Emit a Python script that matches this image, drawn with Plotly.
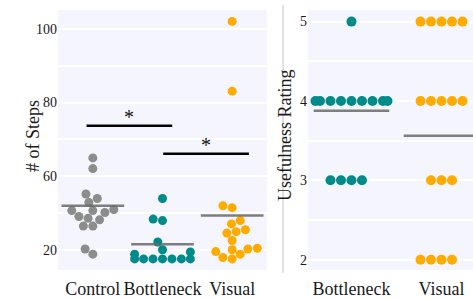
import numpy as np
import plotly.graph_objects as go

# ---------------- data ----------------
steps_categories = ["Control", "Bottleneck", "Visual"]
steps_control = [65.0, 62.1, 55.2, 54.0, 52.9, 50.2, 50.7, 51.0, 50.7, 49.1,
                 48.2, 48.6, 46.5, 46.5, 40.3, 38.9]
steps_bottleneck = [54.0, 48.4, 48.0, 42.2, 40.1, 38.9, 39.5, 37.6, 37.6, 37.6,
                    37.6, 37.6, 37.6, 37.6]
steps_visual = [102.0, 83.1, 52.0, 51.5, 48.0, 47.1, 44.6, 45.0, 45.5, 42.6,
                40.5, 39.6, 40.3, 38.0, 37.6, 38.9, 40.1]
steps_means = [52.0, 41.6, 49.4]
steps_tick_vals = [40, 50, 60, 70, 80, 90, 100]
steps_tick_text = ["20", "", "60", "", "80", "", "100"]

sig_x0 = [-0.09, 1.01]
sig_x1 = [1.14, 2.24]
sig_y = [73.7, 66.1]
sig_text = ["*", "*"]

rating_categories = ["Bottleneck", "Visual"]
rating_bottleneck = [5, 4, 4, 4, 4, 4, 4, 4, 4, 4, 3, 3, 3, 3]
rating_visual = [5, 5, 5, 5, 5, 4, 4, 4, 4, 4, 3, 3, 3, 2, 2, 2, 2]
rating_means = [3.875, 3.5625]
rating_tick_vals = [2, 2.5, 3, 3.5, 4, 4.5, 5]
rating_tick_text = ["2", "", "3", "", "4", "", "5"]

colors_steps = ["#8C8C8C", "#008B8B", "#FFAB00"]
colors_rating = ["#008B8B", "#FFAB00"]

FONT = "Liberation Serif, DejaVu Serif, serif"
TXT = "#1a1a1a"

# ---------------- geometry ----------------
W, H = 473, 299
ML, MR, MT, MB = 58, 0, 10, 27
plot_w = W - ML - MR
plot_h = H - MT - MB
left_dom = [0.0, 209 / plot_w]
right_dom = [250 / plot_w, 1.0]
left_xr = [-0.5, 2.5]
left_yr = [34.6, 105.1]
right_xr = [-0.483, 1.35]
right_yr = [1.87, 5.146]

lx_ppu = (left_dom[1] - left_dom[0]) * plot_w / (left_xr[1] - left_xr[0])
ly_ppu = plot_h / (left_yr[1] - left_yr[0])
rx_ppu = (right_dom[1] - right_dom[0]) * plot_w / (right_xr[1] - right_xr[0])
ry_ppu = plot_h / (right_yr[1] - right_yr[0])


def swarm(values, y_ppu, r, half_w):
    """seaborn-like beeswarm, returns x offsets in px"""
    v = np.asarray(values, float)
    order = np.argsort(v, kind="stable")
    ys = v[order] * y_ppu
    placed = []
    for y in ys:
        nb = [(xj, yj) for (xj, yj) in placed if abs(y - yj) < 2 * r]
        cands = [0.0]
        left = True
        for xj, yj in nb:
            dx = np.sqrt(max((2 * r) ** 2 - (y - yj) ** 2, 0)) * 1.05
            cands.extend([xj - dx, xj + dx] if left else [xj + dx, xj - dx])
            left = not left
        cands = sorted(cands, key=abs)
        chosen = cands[-1]
        for c in cands:
            if all((c - xj) ** 2 + (y - yj) ** 2 >= (2 * r) ** 2 - 1e-6 for xj, yj in nb):
                chosen = c
                break
        placed.append((chosen, y))
    offs = np.clip(np.array([p[0] for p in placed]), -half_w, half_w)
    res = np.empty_like(offs)
    res[order] = offs
    return res


fig = go.Figure()

# left panel swarms
for i, vals in enumerate([steps_control, steps_bottleneck, steps_visual]):
    off = swarm(vals, ly_ppu, 4.5, 0.4 * lx_ppu) / lx_ppu
    fig.add_trace(go.Scatter(x=i + off, y=vals, mode="markers",
                             marker=dict(size=9, color=colors_steps[i]),
                             xaxis="x", yaxis="y", showlegend=False, hoverinfo="skip"))
for i, m in enumerate(steps_means):
    fig.add_trace(go.Scatter(x=[i - 0.45, i + 0.45], y=[m, m], mode="lines",
                             line=dict(color="rgba(105,105,105,0.85)", width=2.5),
                             xaxis="x", yaxis="y", showlegend=False, hoverinfo="skip"))
for x0, x1, y, t in zip(sig_x0, sig_x1, sig_y, sig_text):
    fig.add_trace(go.Scatter(x=[x0, x1], y=[y, y], mode="lines",
                             line=dict(color="black", width=2.5),
                             xaxis="x", yaxis="y", showlegend=False, hoverinfo="skip"))
    fig.add_annotation(x=(x0 + x1) / 2, y=y, xref="x", yref="y", text=t,
                       showarrow=False, yanchor="bottom", yshift=-4,
                       font=dict(family=FONT, size=20, color="#111"))

# right panel swarms
for i, vals in enumerate([rating_bottleneck, rating_visual]):
    off = swarm(vals, ry_ppu, 5.0, 0.4 * rx_ppu) / rx_ppu
    fig.add_trace(go.Scatter(x=i + off, y=vals, mode="markers",
                             marker=dict(size=10, color=colors_rating[i]),
                             xaxis="x2", yaxis="y2", showlegend=False, hoverinfo="skip"))
for i, m in enumerate(rating_means):
    fig.add_trace(go.Scatter(x=[i - 0.42, i + 0.42], y=[m, m], mode="lines",
                             line=dict(color="rgba(105,105,105,0.85)", width=2.5),
                             xaxis="x2", yaxis="y2", showlegend=False, hoverinfo="skip"))

# axis titles
fig.add_annotation(x=(21 - ML) / plot_w, y=(272 - 137) / plot_h, xref="paper", yref="paper",
                   text="# of Steps", textangle=-90, showarrow=False,
                   font=dict(family=FONT, size=18, color=TXT))
fig.add_annotation(x=(285 - ML) / plot_w, y=(272 - 137) / plot_h, xref="paper", yref="paper",
                   text="Usefulness Rating", textangle=-90, showarrow=False,
                   font=dict(family=FONT, size=18, color=TXT))

# thin spine between panels
fig.add_shape(type="line", xref="paper", yref="paper",
              x0=(283 - ML) / plot_w, x1=(283 - ML) / plot_w,
              y0=(272 - 5) / plot_h, y1=(272 - 275) / plot_h,
              line=dict(color="#c4c4c4", width=1))

axis_common = dict(showline=False, zeroline=False, ticks="")
fig.update_layout(
    width=W, height=H,
    margin=dict(l=ML, r=MR, t=MT, b=MB),
    paper_bgcolor="white", plot_bgcolor="#F5F6FD",
    font=dict(family=FONT, color=TXT),
    xaxis=dict(domain=left_dom, range=left_xr, tickvals=[0, 1, 2],
               ticktext=steps_categories, showgrid=False, ticklabelstandoff=6,
               tickfont=dict(size=18), anchor="y", **axis_common),
    yaxis=dict(range=left_yr, tickvals=steps_tick_vals, ticktext=steps_tick_text,
               showgrid=True, gridcolor="white", gridwidth=1.5,
               tickfont=dict(size=14), anchor="x", **axis_common),
    xaxis2=dict(domain=right_dom, range=right_xr, tickvals=[0, 1],
                ticktext=rating_categories, showgrid=False, ticklabelstandoff=6,
                tickfont=dict(size=18), anchor="y2", **axis_common),
    yaxis2=dict(range=right_yr, tickvals=rating_tick_vals, ticktext=rating_tick_text,
                showgrid=True, gridcolor="white", gridwidth=1.5,
                tickfont=dict(size=14), anchor="x2", **axis_common),
)

fig.write_html("out.html", config={"displayModeBar": False},
               post_script="document.body.style.margin='0';document.body.style.overflow='hidden';")
